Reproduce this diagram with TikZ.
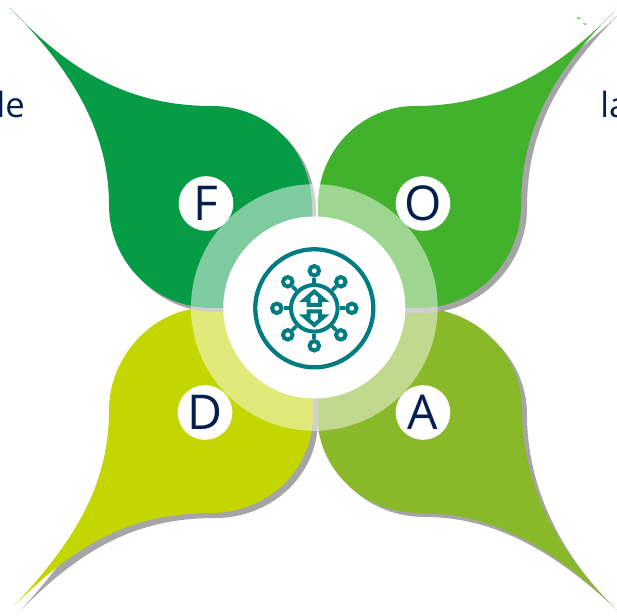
\documentclass[tikz,border=0pt]{standalone}
\definecolor{deepnavy}{RGB}{4, 30, 78}
\definecolor{leafgreen}{RGB}{6, 156, 70}
\definecolor{grassgreen}{RGB}{66, 177, 44}
\definecolor{limegreen}{RGB}{196, 214, 0}
\definecolor{olivegreen}{RGB}{137, 184, 40}
\definecolor{leafshadow}{RGB}{165, 165, 168}
\definecolor{iconteal}{RGB}{0, 124, 130}
\usepackage{fontspec}
\setmainfont{Open Sans}
\usetikzlibrary{positioning}
\tikzset{
  letternode/.style={circle, fill=white, minimum size=41pt, inner sep=0pt, text=deepnavy, font=\fontsize{36}{36}\selectfont},
  sidetext/.style={inner sep=0pt, text=deepnavy, font=\fontsize{26}{26}\selectfont},
  hubnode/.style={circle, draw=iconteal, line width=3pt, minimum size=35pt, inner sep=0pt},
  satnode/.style={circle, draw=iconteal, line width=3pt, minimum size=7.1pt, inner sep=0pt, fill=white},
  ringnode/.style={circle, draw=iconteal, line width=3.2pt, minimum size=88.5pt, inner sep=0pt},
  spoke/.style={draw=iconteal, line width=2.8pt},
  updown/.style={draw=iconteal, line width=3pt, fill=white, line join=miter},
}
\begin{document}
\begin{tikzpicture}[x=0.75pt, y=-0.75pt]
\useasboundingbox (0,0) rectangle (617,616);
% side texts
\node[sidetext, anchor=base east] (sideleft) at (25,118) {de};
\node[sidetext, anchor=base west] (sideright) at (600,118) {la};
% leaves with shadows
\fill[leafshadow] (617,610) .. controls (555,550) and (527,480) .. (527,415) .. controls (527,358) and (480,313) .. (423,313) -- (322,313) -- (322,418) .. controls (322,475) and (368,517) .. (425,517) .. controls (495,517) and (555,552) .. cycle;
\fill[olivegreen] (614,607) .. controls (550,545) and (522,475) .. (522,410) .. controls (522,353) and (475,308) .. (418,308) -- (317,308) -- (317,413) .. controls (317,470) and (363,513) .. (420,513) .. controls (490,513) and (550,545) .. (614,607) -- cycle;
\fill[leafshadow] (20,611) .. controls (80,545) and (114,490) .. (114,415) .. controls (114,358) and (160,313) .. (210,313) -- (318,313) -- (318,420) .. controls (318,475) and (272,518) .. (215,518) .. controls (135,518) and (80,550) .. cycle;
\fill[limegreen] (15,605) .. controls (75,540) and (109,485) .. (109,410) .. controls (109,355) and (155,308) .. (205,308) -- (313,308) -- (313,415) .. controls (313,470) and (268,513) .. (210,513) .. controls (130,513) and (75,545) .. (15,605) -- cycle;
\fill[leafshadow] (619,14) .. controls (558,76) and (527,130) .. (527,208) .. controls (527,265) and (480,313) .. (423,313) -- (322,313) -- (322,208) .. controls (322,150) and (368,110) .. (420,110) .. controls (498,110) and (558,72) .. cycle;
\fill[grassgreen] (614,12) .. controls (555,72) and (495,106) .. (415,106) .. controls (362,106) and (318,150) .. (318,205) -- (318,308) -- (420,308) .. controls (476,308) and (521,262) .. (521,205) .. controls (521,130) and (553,72) .. (614,12) -- cycle;
\begin{scope}[shift={(4,4)}, leafshadow]
\fill (10,8) .. controls (70,72) and (130,106) .. (212,106) .. controls (268,106) and (312,150) .. (312,208) -- (312,308) -- (212,308) .. controls (155,308) and (109,262) .. (109,205) .. controls (109,130) and (70,68) .. (10,8) -- cycle;
\end{scope}
\fill[leafgreen] (10,8) .. controls (70,72) and (130,106) .. (212,106) .. controls (268,106) and (312,150) .. (312,208) -- (312,308) -- (212,308) .. controls (155,308) and (109,262) .. (109,205) .. controls (109,130) and (70,68) .. (10,8) -- cycle;
\fill[grassgreen] (577,17.5) -- (582,18) -- (578,19) -- cycle;
\fill[leafshadow] (583,23) -- (588,24) -- (584,25) -- cycle;
% centre
\node[circle, fill=white, fill opacity=0.48, minimum size=185pt, inner sep=0pt] (ring) at (314.3,307.5) {};
\node[circle, fill=white, minimum size=136.5pt, inner sep=0pt] (disc) at (314.3,307.5) {};
\node[ringnode] (iconring) at (314.3,308.3) {};
\node[hubnode] (hub) at (314.3,308.3) {};
\foreach \a in {0,45,...,315} {
  \node[satnode] (sat\a) at ([shift={(\a:37.5)}]hub.center) {};
  \draw[spoke] (hub) -- (sat\a);
}
\draw[updown] (314.3,291.5) -- (324,300) -- (320,300) -- (320,305) -- (308.5,305) -- (308.5,300) -- (304.5,300) -- cycle;
\draw[updown] (314.3,325) -- (324,316.5) -- (320,316.5) -- (320,311.5) -- (308.5,311.5) -- (308.5,316.5) -- (304.5,316.5) -- cycle;
% letters
\node[letternode] (fnode) at (206,203.5) {F};
\node[letternode] (onode) at (423,203.5) {O};
\node[letternode] (dnode) at (205,412.5) {D};
\node[letternode] (anode) at (423,412.5) {A};
\end{tikzpicture}
\end{document}
